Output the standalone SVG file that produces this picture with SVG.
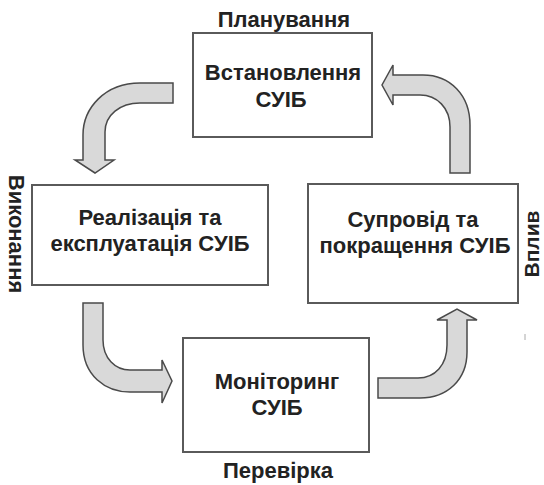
<svg xmlns="http://www.w3.org/2000/svg" width="544" height="485" viewBox="0 0 544 485">
<defs>
<style>
.box{fill:#fff;stroke:#5a5a5a;stroke-width:2}
.arrow{fill:#d9d9d9;stroke:#4a4a4a;stroke-width:1.5;stroke-linejoin:miter}
.t{font-family:"Liberation Sans",Arial,sans-serif;font-weight:bold;font-size:22px;fill:#222;text-anchor:middle}
.lbl{font-family:"Liberation Sans",Arial,sans-serif;font-weight:bold;font-size:22px;fill:#222;text-anchor:middle}
</style>
</defs>
<rect width="544" height="485" fill="#fff"/>
<g id="connectors">
<path id="arrow-plan-do" class="arrow" d="M173,83 L140,83 C105,83 83,108 83,135 L83,160 L75,160 L95,173 L114,160 L105,160 L105,132 C105,115 120,103 140,103 L173,103 Z"/>
<path id="arrow-do-check" class="arrow" d="M83,303 L83,345 C83,375 105,392 130,392 L162,392 L162,403 L172,381 L162,360 L162,370 L130,370 C115,370 103,358 103,340 L103,303 Z"/>
<path id="arrow-check-act" class="arrow" d="M378,398 L420,398 C447,398 467,380 467,352 L467,320 L477,320 L457,309 L437,320 L447,320 L447,345 C447,365 435,378 418,378 L378,378 Z"/>
<path id="arrow-act-plan" class="arrow" d="M450,173 L470,173 L470,125 C470,95 450,75 423,75 L393,75 L393,65 L382,85 L393,105 L393,95 L420,95 C437,95 450,108 450,127 Z"/>
</g>
<g id="node-plan">
<rect class="box" x="193" y="33" width="179" height="104"/>
<text class="t" x="283" y="80">Встановлення</text>
<text class="t" x="281" y="107">СУІБ</text>
</g>
<g id="node-do">
<rect class="box" x="32" y="185" width="236" height="100"/>
<text class="t" x="150" y="225">Реалізація та</text>
<text class="t" x="150" y="251">експлуатація СУІБ</text>
</g>
<g id="node-act">
<rect class="box" x="308" y="184" width="210" height="119"/>
<text class="t" x="413" y="227">Супровід та</text>
<text class="t" x="415" y="253">покращення СУІБ</text>
</g>
<g id="node-check">
<rect class="box" x="183" y="338" width="186" height="114"/>
<text class="t" x="277" y="389">Моніторинг</text>
<text class="t" x="277" y="415">СУІБ</text>
</g>
<g id="labels">
<text class="lbl" x="284" y="27">Планування</text>
<text class="lbl" x="278" y="478">Перевірка</text>
<text class="lbl" transform="translate(9,234) rotate(90)" x="0" y="0">Виконання</text>
<text class="lbl" style="font-size:21px" transform="translate(539,244) rotate(-90)" x="0" y="0">Вплив</text>
</g>
<line x1="525" y1="334" x2="525" y2="340" stroke="#aaa" stroke-width="1"/>
</svg>
